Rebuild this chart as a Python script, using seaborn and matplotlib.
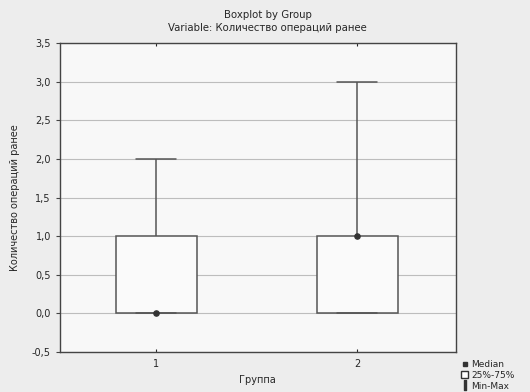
import pandas as pd
import numpy as np
import seaborn as sns
from matplotlib import pyplot as plt
from matplotlib.lines import Line2D
from matplotlib.patches import Patch
from matplotlib.ticker import FuncFormatter

# raw values per group (box = 25%-75%, whiskers = min-max)
group_1 = [0, 0, 0, 1, 2]
group_2 = [0, 0, 1, 1, 3]
groups = ["1", "2"]
y_ticks = [-0.5, 0.0, 0.5, 1.0, 1.5, 2.0, 2.5, 3.0, 3.5]

df = pd.DataFrame({
    "Группа": [groups[0]] * len(group_1) + [groups[1]] * len(group_2),
    "value": group_1 + group_2,
})
medians = df.groupby("Группа", sort=False)["value"].median()

sns.set_style("white")
plt.rcParams["font.family"] = ["DejaVu Sans"]

fig = plt.figure(figsize=(5.3, 3.92), dpi=100, facecolor="#ededed")
ax = fig.add_axes([0.113, 0.102, 0.747, 0.788], facecolor="#f8f8f8")

line_col = "#555555"
sns.boxplot(data=df, x="Группа", y="value", ax=ax, order=groups, whis=(0, 100),
            width=0.4, color="#fafafa", linecolor=line_col, linewidth=1.1,
            medianprops=dict(linestyle="none"), zorder=3)
ax.scatter(range(len(groups)), medians.values, s=14, color="#333333", zorder=5)

ax.set_ylim(-0.5, 3.5)
ax.set_xlim(-0.48, 1.49)
ax.set_yticks(y_ticks)
ax.yaxis.set_major_formatter(FuncFormatter(lambda v, p: f"{v:.1f}".replace(".", ",")))
ax.grid(axis="y", color="#bdbdbd", linewidth=0.8, zorder=0)
ax.set_axisbelow(True)
for s in ax.spines.values():
    s.set_color("#444444")
    s.set_linewidth(1.0)
ax.tick_params(axis="y", left=True, length=3, labelsize=7, color="#444444")
ax.tick_params(axis="x", bottom=True, top=True, direction="in", length=2, labelsize=7, pad=5)
ax.set_xlabel("Группа", fontsize=7)
ax.set_ylabel("Количество операций ранее", fontsize=7)
ax.yaxis.set_label_coords(-0.1, 0.5)

fig.text(0.505, 0.975, "Boxplot by Group", ha="center", va="top", fontsize=7.3)
fig.text(0.505, 0.942, "Variable: Количество операций ранее", ha="center", va="top", fontsize=7.3)

handles = [
    Line2D([], [], marker="s", markersize=3, color="#333333", linestyle="none"),
    Patch(facecolor="white", edgecolor="#333333"),
    Line2D([], [], marker="$\\mathrm{I}$", markersize=7, color="#333333", linestyle="none"),
]
fig.legend(handles, ["Median", "25%-75%", "Min-Max"], loc="lower left",
           bbox_to_anchor=(0.86, -0.01), frameon=False, fontsize=6.5,
           handlelength=0.8, handletextpad=0.3, labelspacing=0.2, borderaxespad=0.2)

fig.savefig("out.png", dpi=100, facecolor=fig.get_facecolor())
